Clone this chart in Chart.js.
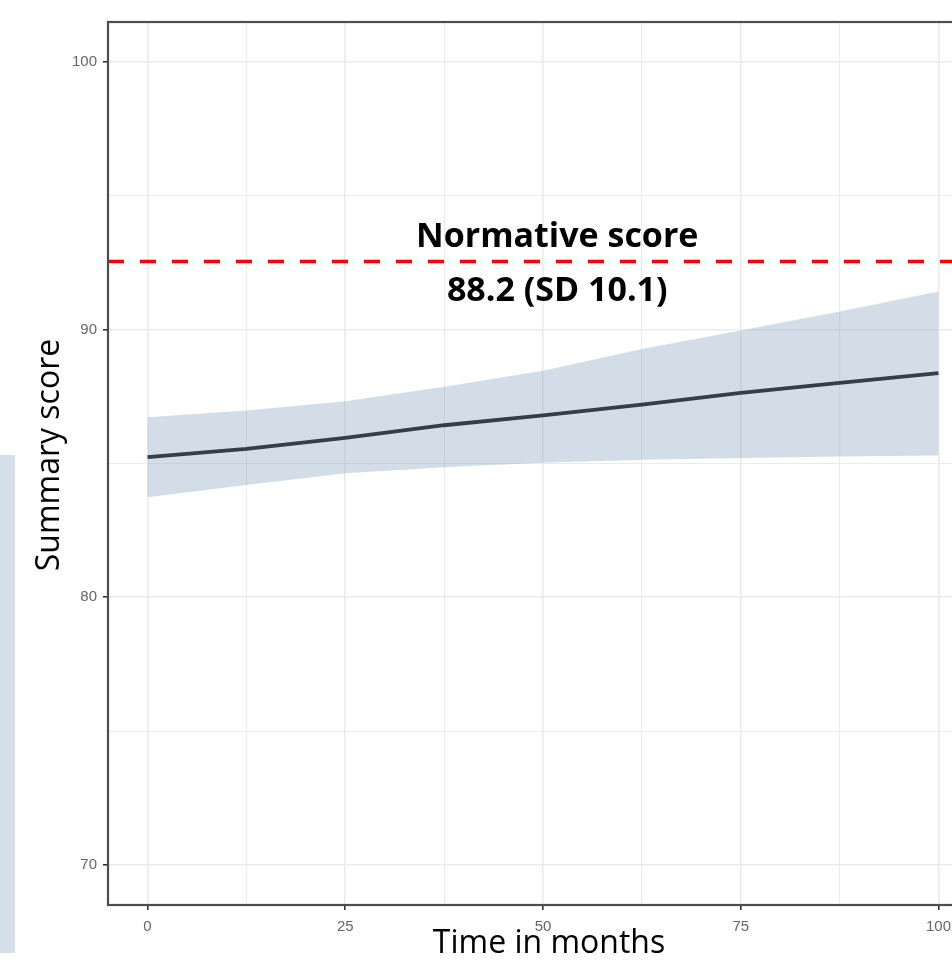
<!DOCTYPE html>
<html>
<head>
<meta charset="utf-8">
<script src="https://cdn.jsdelivr.net/npm/chart.js@4/dist/chart.umd.min.js"></script>
<style>
  html, body { margin: 0; padding: 0; background: #fff; overflow: hidden; width: 952px; height: 961px; }
  #wrap { position: absolute; left: 0; top: 0; width: 1000px; height: 961px; }
  #strip { position: absolute; left: 0; top: 455px; width: 15px; height: 498px; background: #d5dfe9; }
</style>
</head>
<body>
<div id="wrap"><canvas id="chart" width="1000" height="961"></canvas></div>
<div id="strip"></div>
<script>
// months
const months = [0, 12.5, 25, 37.5, 50, 62.5, 75, 87.5, 100];
// fitted summary score and confidence band
const meanScore = [85.24, 85.55, 85.96, 86.43, 86.80, 87.20, 87.64, 88.01, 88.38];
const upperCI = [86.73, 86.98, 87.33, 87.87, 88.47, 89.28, 89.97, 90.68, 91.43];
const lowerCI = [83.74, 84.20, 84.64, 84.86, 85.03, 85.14, 85.21, 85.26, 85.30];
// normative reference line
const normLevel = 92.55;
const normLabel = ['Normative score', '88.2 (SD 10.1)'];

const xTicks = [0, 12.5, 25, 37.5, 50, 62.5, 75, 87.5, 100];
const yTicks = [70, 75, 80, 85, 90, 95, 100];
const X_MIN = -5, X_MAX = 105, Y_MIN = 68.5, Y_MAX = 101.5;

const pts = (ys) => months.map((m, i) => ({ x: m, y: ys[i] }));

// border round the panel, axis titles, annotation
const panelPlugin = {
  id: 'panel',
  afterDraw(chart) {
    const { ctx, chartArea: a, scales } = chart;
    ctx.save();
    ctx.strokeStyle = '#4d4d4d';
    ctx.lineWidth = 2.2;
    ctx.strokeRect(a.left, a.top, a.right - a.left, a.bottom - a.top);

    ctx.fillStyle = '#000';
    ctx.textAlign = 'center';
    ctx.font = 'bold 34px "Open Sans"';
    const cx = scales.x.getPixelForValue(51.8);
    ctx.textBaseline = 'alphabetic';
    ctx.fillText(normLabel[0], cx, scales.y.getPixelForValue(93.1));
    ctx.fillText(normLabel[1], cx, scales.y.getPixelForValue(91.08));

    ctx.font = '32px "Open Sans"';
    ctx.textBaseline = 'middle';
    ctx.fillText('Time in months', 549, 944);

    ctx.translate(50, 455);
    ctx.rotate(-Math.PI / 2);
    ctx.fillText('Summary score', 0, 0);
    ctx.restore();
  }
};

new Chart(document.getElementById('chart'), {
  type: 'line',
  data: {
    datasets: [
      {
        label: 'upper',
        data: pts(upperCI),
        borderWidth: 0,
        pointRadius: 0,
        backgroundColor: 'rgba(145, 170, 195, 0.4)',
        fill: '+1',
        order: 3,
      },
      {
        label: 'lower',
        data: pts(lowerCI),
        borderWidth: 0,
        pointRadius: 0,
        fill: false,
        order: 3,
      },
      {
        label: 'mean',
        data: pts(meanScore),
        borderColor: '#343e46',
        borderWidth: 3.8,
        pointRadius: 0,
        fill: false,
        order: 2,
      },
      {
        label: 'norm',
        data: [{ x: X_MIN, y: normLevel }, { x: X_MAX, y: normLevel }],
        borderColor: '#ff0000',
        borderWidth: 3.5,
        borderDash: [16, 16],
        pointRadius: 0,
        fill: false,
        order: 1,
      },
    ],
  },
  options: {
    responsive: false,
    animation: false,
    layout: { padding: { top: 22, right: 22, left: 0, bottom: 0 } },
    plugins: {
      legend: { display: false },
      tooltip: { enabled: false },
    },
    scales: {
      x: {
        type: 'linear',
        min: X_MIN,
        max: X_MAX,
        afterBuildTicks: (s) => { s.ticks = xTicks.map((v) => ({ value: v })); },
        afterFit: (s) => { s.height = 56; },
        border: { display: false },
        grid: {
          color: '#ebebeb',
          lineWidth: (c) => (c.tick && c.tick.value % 25 === 0 ? 1.6 : 1.1),
          tickColor: (c) => (c.tick && c.tick.value % 25 === 0 ? '#333' : 'rgba(0,0,0,0)'),
          tickLength: 5,
        },
        ticks: {
          autoSkip: false,
          maxRotation: 0,
          padding: 8,
          color: '#666',
          font: { family: '"Liberation Sans", Arial', size: 15 },
          callback: (v) => (v % 25 === 0 ? String(v) : ''),
        },
      },
      y: {
        min: Y_MIN,
        max: Y_MAX,
        afterBuildTicks: (s) => { s.ticks = yTicks.map((v) => ({ value: v })); },
        afterFit: (s) => { s.width = 108; },
        border: { display: false },
        grid: {
          color: '#ebebeb',
          lineWidth: (c) => (c.tick && c.tick.value % 10 === 0 ? 1.6 : 1.1),
          tickColor: (c) => (c.tick && c.tick.value % 10 === 0 ? '#333' : 'rgba(0,0,0,0)'),
          tickLength: 5,
        },
        ticks: {
          autoSkip: false,
          padding: 6,
          color: '#666',
          font: { family: '"Liberation Sans", Arial', size: 15 },
          callback: (v) => (v % 10 === 0 ? String(v) : ''),
        },
      },
    },
  },
  plugins: [panelPlugin],
});
</script>
</body>
</html>
